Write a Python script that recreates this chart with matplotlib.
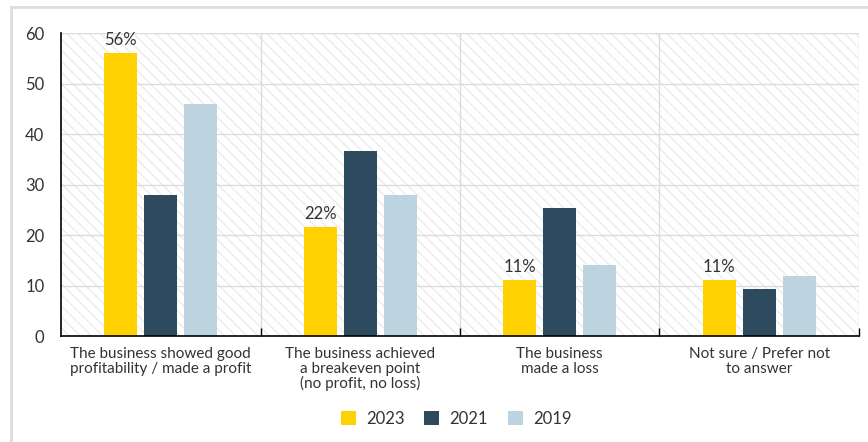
import matplotlib.pyplot as plt
import numpy as np
from matplotlib.patches import Rectangle
from matplotlib.lines import Line2D

plt.rcParams['font.family'] = ['Lato', 'DejaVu Sans']
plt.rcParams['hatch.linewidth'] = 1.0

CATEGORIES = [
    'The business showed good\nprofitability / made a profit',
    'The business achieved\na breakeven point\n(no profit, no loss)',
    'The business\nmade a loss',
    'Not sure / Prefer not\nto answer',
]
YEARS = ['2023', '2021', '2019']
V2023 = [56, 21.6, 11.1, 11.1]
V2021 = [28, 36.6, 25.3, 9.3]
V2019 = [46, 27.9, 14.1, 11.9]
COLORS = ['#FFD100', '#2D4A5F', '#BDD3DF']

fig = plt.figure(figsize=(8.68, 4.42), dpi=100)
ax = fig.add_axes([0.0703, 0.2398, 0.9193, 0.6855])

# outer light frame
fig.add_artist(Line2D([11/868, 11/868], [0, 1 - 7/442], transform=fig.transFigure, color='#dddddd', lw=2))
fig.add_artist(Line2D([11/868, 1], [1 - 7/442, 1 - 7/442], transform=fig.transFigure, color='#dddddd', lw=2))

ax.add_patch(Rectangle((0, 0), 1, 1, transform=ax.transAxes, facecolor='white',
                       edgecolor='#ececec', hatch='\\\\\\', lw=0, zorder=0))

x = np.arange(len(CATEGORIES))
w = 0.165
step = 0.2
for i, (vals, col, yr) in enumerate(zip([V2023, V2021, V2019], COLORS, YEARS)):
    bars = ax.bar(x + (i - 1) * step, vals, w, color=col, label=yr, zorder=3)
    if i == 0:
        for b, v in zip(bars, vals):
            ax.text(b.get_x() + b.get_width() / 2, v + 1.0, f'{round(v)}%',
                    ha='center', va='bottom', fontsize=12, color='#333333', zorder=4)

ax.set_xlim(-0.5, 3.5)
ax.set_ylim(0, 60)
ax.set_yticks(range(0, 61, 10))
ax.set_xticks(x)
ax.set_xticklabels(CATEGORIES, fontsize=11, color='#333333', linespacing=1.05)
ax.set_xticks([0.5, 1.5, 2.5, 3.5], minor=True)
ax.tick_params(axis='x', which='major', length=0, pad=8)
ax.tick_params(axis='x', which='minor', direction='in', length=6, color='black', width=1)
ax.tick_params(axis='y', length=0, labelsize=12, labelcolor='#333333', pad=12)

ax.grid(True, axis='y', color='#dcdcdc', lw=1, zorder=1)
for b in [0.5, 1.5, 2.5, 3.5]:
    ax.axvline(b, color='#dcdcdc', lw=1, zorder=1)
ax.axhline(60, color='#dcdcdc', lw=1.5, zorder=1)

for s in ['top', 'right']:
    ax.spines[s].set_visible(False)
ax.spines['left'].set_color('black')
ax.spines['bottom'].set_color('black')
ax.spines['left'].set_linewidth(1.2)
ax.spines['bottom'].set_linewidth(1.2)
ax.spines['left'].set_zorder(5)
ax.spines['bottom'].set_zorder(5)

leg = fig.legend(loc='center', bbox_to_anchor=(456/868, 1 - 419/442), ncol=3, frameon=False,
                 fontsize=12, handlelength=0.9, handleheight=0.9, columnspacing=1.2,
                 handletextpad=0.6)
for t in leg.get_texts():
    t.set_color('#333333')

fig.savefig('out.png', dpi=100)
